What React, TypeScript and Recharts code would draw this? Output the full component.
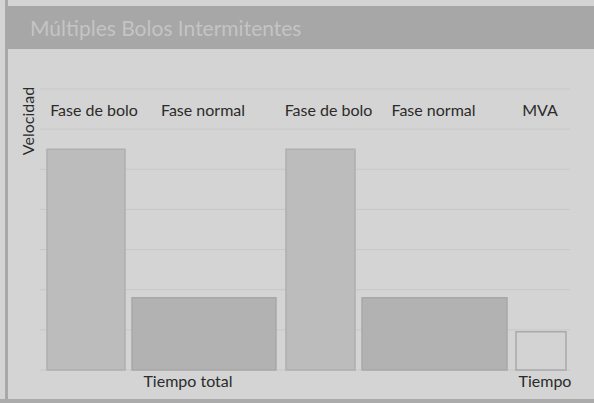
import React from 'react';
import {
  ComposedChart,
  XAxis,
  YAxis,
  CartesianGrid,
  ReferenceArea,
  Line,
} from 'recharts';

// phases of the infusion, time in arbitrary units
const phases = ['Fase de bolo', 'Fase normal', 'Fase de bolo', 'Fase normal', 'MVA'];
const phaseStart = [0.7, 9.2, 24.6, 32.2, 47.6];
const phaseEnd = [8.5, 23.6, 31.5, 46.7, 52.6];
const velocity = [5.5, 1.8, 5.5, 1.8, 0.95];
const phaseKind = ['bolo', 'normal', 'bolo', 'normal', 'mva'];
const yTicks = [0, 1, 2, 3, 4, 5, 6, 7];

const rows = phases.map((name, i) => ({
  name,
  mid: (phaseStart[i] + phaseEnd[i]) / 2,
  v: velocity[i],
}));

const FONT = 'Lato, "Open Sans", sans-serif';

const styles: Record<string, { fill: string; stroke: string; dx: number }> = {
  bolo: { fill: '#bcbcbc', stroke: '#afafaf', dx: 8 },
  normal: { fill: '#b2b2b2', stroke: '#a8a8a8', dx: -1 },
  mva: { fill: '#d3d3d3', stroke: '#a9a9a9', dx: -1 },
};

const PhaseLabel = (props: any) => {
  const { viewBox, text, dx } = props;
  if (!viewBox) return null;
  return (
    <text
      x={viewBox.x + viewBox.width / 2 + dx}
      y={116}
      textAnchor="middle"
      fontFamily={FONT}
      fontSize={16}
      fill="#2b2b2b"
    >
      {text}
    </text>
  );
};

export default function App() {
  return (
    <div
      style={{
        position: 'fixed',
        left: 0,
        top: 0,
        width: 594,
        height: 403,
        background: '#d4d4d4',
        overflow: 'hidden',
      }}
    >
      {/* left frame line */}
      <div
        style={{
          position: 'absolute',
          left: 5,
          top: 0,
          width: 3,
          height: 403,
          background: '#a8a8a8',
        }}
      />
      <div
        style={{
          position: 'absolute',
          left: 0,
          top: 399,
          width: 594,
          height: 4,
          background: '#ababab',
        }}
      />
      {/* title band */}
      <div
        style={{
          position: 'absolute',
          left: 6,
          top: 6,
          width: 588,
          height: 43,
          background: '#a7a7a7',
          color: '#c4c4c4',
          fontFamily: FONT,
          fontSize: 21,
          lineHeight: '43px',
          paddingLeft: 24,
          boxSizing: 'border-box',
        }}
      >
        Múltiples Bolos Intermitentes
      </div>
      <div style={{ position: 'absolute', left: 0, top: 0 }}>
        <ComposedChart
          width={594}
          height={403}
          data={rows}
          margin={{ top: 89, right: 24, bottom: 33, left: 40 }}
        >
          <CartesianGrid
            horizontal
            vertical={false}
            stroke="#c7c7c7"
            strokeWidth={1}
          />
          <XAxis dataKey="mid" type="number" domain={[0, 53]} hide />
          <YAxis type="number" domain={[0, 7]} ticks={yTicks} hide />
          {phases.map((p, i) => (
            <ReferenceArea
              key={i}
              x1={phaseStart[i]}
              x2={phaseEnd[i]}
              y1={0}
              y2={velocity[i]}
              fill={styles[phaseKind[i]].fill}
              fillOpacity={1}
              stroke={styles[phaseKind[i]].stroke}
              strokeWidth={1.5}
              label={<PhaseLabel text={p} dx={styles[phaseKind[i]].dx} />}
            />
          ))}
          <Line
            dataKey="v"
            stroke="none"
            dot={false}
            activeDot={false}
            isAnimationActive={false}
          />
          <text
            x={27}
            y={121}
            transform="rotate(-90 27 121)"
            textAnchor="middle"
            dominantBaseline="central"
            fontFamily={FONT}
            fontSize={16}
            fill="#2b2b2b"
          >
            Velocidad
          </text>
          <text
            x={188}
            y={387}
            textAnchor="middle"
            fontFamily={FONT}
            fontSize={16}
            fill="#2b2b2b"
          >
            Tiempo total
          </text>
          <text
            x={545}
            y={387}
            textAnchor="middle"
            fontFamily={FONT}
            fontSize={16}
            fill="#2b2b2b"
          >
            Tiempo
          </text>
        </ComposedChart>
      </div>
    </div>
  );
}
